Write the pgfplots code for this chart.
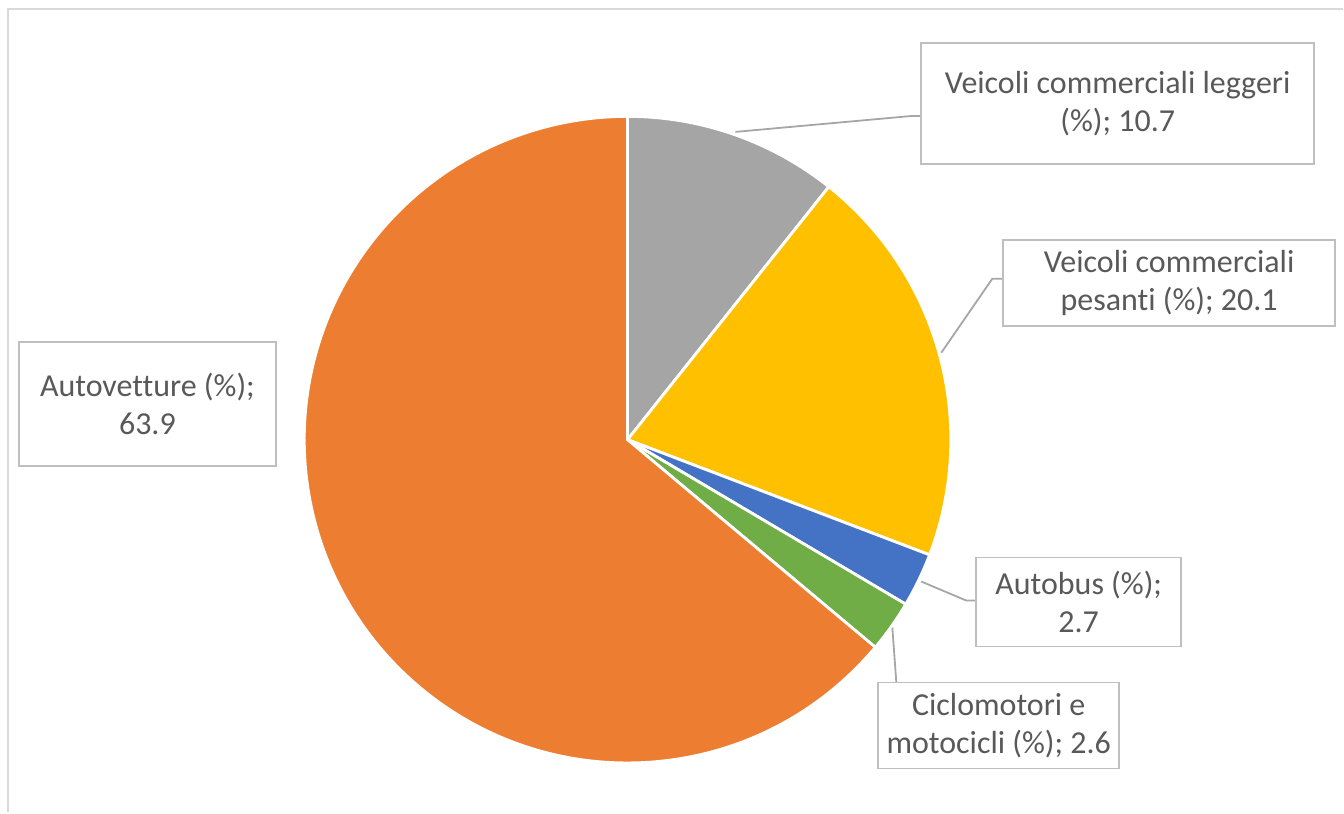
\documentclass[border=0pt]{standalone}
\usepackage{pgfplots}
\pgfplotsset{compat=1.18}
\usepackage{fontspec}
\setmainfont{Carlito}[Ligatures=NoCommon]
\definecolor{cGray}{HTML}{A5A5A5}
\definecolor{cYellow}{HTML}{FFC000}
\definecolor{cBlue}{HTML}{4472C4}
\definecolor{cGreen}{HTML}{70AD47}
\definecolor{cOrange}{HTML}{ED7D31}
\definecolor{cText}{HTML}{595959}
\definecolor{cBox}{HTML}{BFBFBF}
\definecolor{cLead}{HTML}{A6A6A6}
\definecolor{cFrame}{HTML}{D9D9D9}
\begin{document}
\begin{tikzpicture}
\begin{axis}[x=0.5pt,y=0.5pt,xmin=0,xmax=1344,ymin=0,ymax=813,
  hide axis, clip=false, scale only axis, anchor=origin, at={(0,0)}]
\path (axis cs:0,0) rectangle (axis cs:1344,813);
\draw[cFrame, line width=1pt] (axis cs:8,0) -- (axis cs:8,804) -- (axis cs:1344,804);
\def\R{161.75pt}
% values (%): 10.7, 20.1, 2.7, 2.6, 63.9 -- clockwise from top
\filldraw[fill=cGray, draw=white, line width=1.4pt] (axis cs:628,373) -- ++(90:\R)
  arc[start angle=90, delta angle={-3.6*10.7}, radius=\R] -- cycle;
\filldraw[fill=cYellow, draw=white, line width=1.4pt] (axis cs:628,373) -- ++({90-3.6*10.7}:\R)
  arc[start angle={90-3.6*10.7}, delta angle={-3.6*20.1}, radius=\R] -- cycle;
\filldraw[fill=cBlue, draw=white, line width=1.4pt] (axis cs:628,373) -- ++({90-3.6*(10.7+20.1)}:\R)
  arc[start angle={90-3.6*(10.7+20.1)}, delta angle={-3.6*2.7}, radius=\R] -- cycle;
\filldraw[fill=cGreen, draw=white, line width=1.4pt] (axis cs:628,373) -- ++({90-3.6*(10.7+20.1+2.7)}:\R)
  arc[start angle={90-3.6*(10.7+20.1+2.7)}, delta angle={-3.6*2.6}, radius=\R] -- cycle;
\filldraw[fill=cOrange, draw=white, line width=1.4pt] (axis cs:628,373) -- ++({90-3.6*(10.7+20.1+2.7+2.6)}:\R)
  arc[start angle={90-3.6*(10.7+20.1+2.7+2.6)}, delta angle={-3.6*63.9}, radius=\R] -- cycle;
% leader lines
\draw[cLead, line width=0.9pt] (axis cs:736,681) -- (axis cs:913,697) -- (axis cs:922,697);
\draw[cLead, line width=0.9pt] (axis cs:942,460) -- (axis cs:993,534) -- (axis cs:1004,534);
\draw[cLead, line width=0.9pt] (axis cs:922,231) -- (axis cs:967,212) -- (axis cs:977,212);
\draw[cLead, line width=0.9pt] (axis cs:893,185) -- (axis cs:897,130);
% labels
\tikzset{lbl/.style={draw=cBox, line width=0.9pt, fill=white, text=cText, align=center,
  inner sep=0pt, font=\fontsize{16}{19}\selectfont}}
\node[lbl, minimum width=196.5pt, minimum height=60.5pt] at (axis cs:1118.5,709.5)
  {Veicoli commerciali leggeri\\(\%); 10.7};
\node[lbl, minimum width=166pt, minimum height=43pt] at (axis cs:1170,530)
  {Veicoli commerciali\\pesanti (\%); 20.1};
\node[lbl, minimum width=102.5pt, minimum height=44.5pt] at (axis cs:1079.5,210.5)
  {Autobus (\%);\\2.7};
\node[lbl, minimum width=120.5pt, minimum height=43pt] at (axis cs:999.5,87)
  {Ciclomotori e\\motocicli (\%); 2.6};
\node[lbl, minimum width=128.5pt, minimum height=62pt] at (axis cs:147.5,409)
  {Autovetture (\%);\\63.9};
\end{axis}
\end{tikzpicture}
\end{document}
